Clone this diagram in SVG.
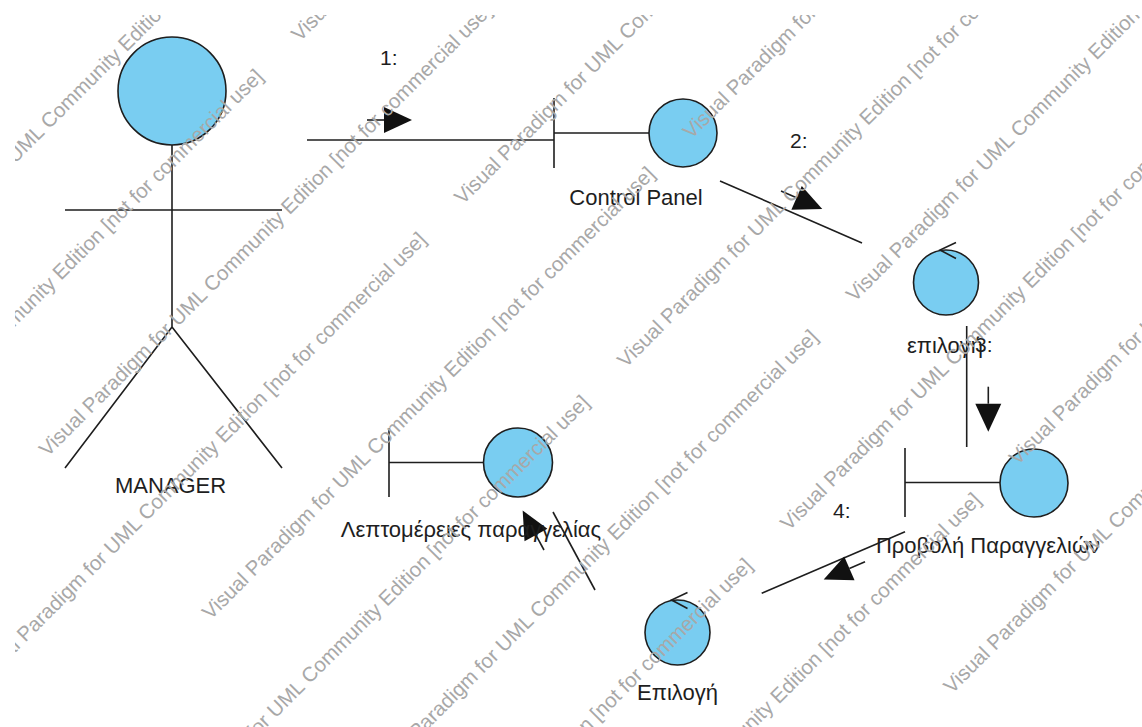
<svg xmlns="http://www.w3.org/2000/svg" width="1142" height="727" viewBox="0 0 1142 727">
<defs>
<style>
.ln{stroke:#1e1e1e;stroke-width:1.6;fill:none}
.shape{fill:#79CDF1;stroke:#1e1e1e;stroke-width:1.6}
.head{fill:#111}
.lbl{font-family:"Liberation Sans",Arial,"Noto Sans",sans-serif;font-size:22px;fill:#1e1e1e;text-anchor:middle}
.num{font-family:"Liberation Sans",Arial,"Noto Sans",sans-serif;font-size:21px;fill:#1e1e1e}
.wm{font-family:"Liberation Sans",Arial,"Noto Sans",sans-serif;font-size:20.5px;fill:#a8a8a8}
</style>
<clipPath id="wmclip"><rect x="15" y="15" width="1127" height="712"/></clipPath>
<g id="msg"><path d="M0,0 H17" class="ln"/><polygon class="head" points="17,-13 17,13 45,0"/></g>
<path id="ctrlArrow" d="M10,-40 L-6,-32.5 L10,-24" class="ln"/>
</defs>
<rect width="1142" height="727" fill="#ffffff"/>

<g id="connectors">
  <line class="ln" x1="307" y1="140" x2="554" y2="140"/>
  <use href="#msg" transform="translate(367,120)"/>
  <text class="num" x="380" y="65">1:</text>

  <line class="ln" x1="720" y1="181" x2="862" y2="243"/>
  <use href="#msg" transform="translate(781,191) rotate(23.6)"/>
  <text class="num" x="790" y="148">2:</text>

  <line class="ln" x1="966.7" y1="326" x2="966.7" y2="447"/>
  <use href="#msg" transform="translate(988.3,386.7) rotate(90)"/>
  <text class="num" x="975" y="352">3:</text>

  <line class="ln" x1="905" y1="531.7" x2="761.7" y2="593.3"/>
  <use href="#msg" transform="translate(865,561.7) rotate(156.7)"/>
  <text class="num" x="833" y="518">4:</text>

  <line class="ln" x1="595" y1="590" x2="553" y2="512"/>
  <use href="#msg" transform="translate(544,550) rotate(-118.3)"/>
  <text class="num" x="523" y="478">5:</text>
</g>

<g id="manager">
  <circle class="shape" cx="172" cy="91" r="54"/>
  <path class="ln" d="M172,145 V327 M65,210 H282 M172,327 L65,468 M172,327 L282,468"/>
  <text class="lbl" x="170.5" y="493">MANAGER</text>
</g>

<g id="control-panel">
  <path class="ln" d="M554,98 V168 M554,133 H649"/>
  <circle class="shape" cx="683" cy="133" r="34"/>
  <text class="lbl" x="636" y="205">Control Panel</text>
</g>

<g id="epilogi-ctrl">
  <circle class="shape" cx="946" cy="282.5" r="32.5"/>
  <use href="#ctrlArrow" transform="translate(946,282.5)"/>
  <text class="lbl" x="945" y="353">επιλογή</text>
</g>

<g id="provoli-paraggelion">
  <path class="ln" d="M905,448 V517 M905,482.5 H1000"/>
  <circle class="shape" cx="1034" cy="483" r="34"/>
  <text class="lbl" x="988" y="553">Προβολή Παραγγελιών</text>
</g>

<g id="Epilogi-ctrl">
  <circle class="shape" cx="677.5" cy="632.5" r="32.5"/>
  <use href="#ctrlArrow" transform="translate(677.5,632.5)"/>
  <text class="lbl" x="677.5" y="700">Επιλογή</text>
</g>

<g id="leptomereies">
  <path class="ln" d="M389,428 V497 M389,462.5 H483.5"/>
  <circle class="shape" cx="518" cy="462.5" r="34.5"/>
  <text class="lbl" x="471" y="536.5">Λεπτομέρειες παραγγελίας</text>
</g>

<g id="watermark" clip-path="url(#wmclip)">
  <g transform="rotate(-45)">
    <text class="wm" x="-290" y="126.5" textLength="630">Visual Paradigm for UML Community Edition [not for commercial use]</text>
    <text class="wm" x="-498" y="241.8" textLength="630">Visual Paradigm for UML Community Edition [not for commercial use]</text>
    <text class="wm" x="182" y="241.8" textLength="630">Visual Paradigm for UML Community Edition [not for commercial use]</text>
    <text class="wm" x="-290" y="357.1" textLength="630">Visual Paradigm for UML Community Edition [not for commercial use]</text>
    <text class="wm" x="-498" y="472.4" textLength="630">Visual Paradigm for UML Community Edition [not for commercial use]</text>
    <text class="wm" x="182" y="472.4" textLength="630">Visual Paradigm for UML Community Edition [not for commercial use]</text>
    <text class="wm" x="-290" y="587.7" textLength="630">Visual Paradigm for UML Community Edition [not for commercial use]</text>
    <text class="wm" x="390" y="587.7" textLength="630">Visual Paradigm for UML Community Edition [not for commercial use]</text>
    <text class="wm" x="-498" y="703" textLength="630">Visual Paradigm for UML Community Edition [not for commercial use]</text>
    <text class="wm" x="182" y="703" textLength="630">Visual Paradigm for UML Community Edition [not for commercial use]</text>
    <text class="wm" x="-290" y="818.3" textLength="630">Visual Paradigm for UML Community Edition [not for commercial use]</text>
    <text class="wm" x="390" y="818.3" textLength="630">Visual Paradigm for UML Community Edition [not for commercial use]</text>
    <text class="wm" x="-498" y="933.6" textLength="630">Visual Paradigm for UML Community Edition [not for commercial use]</text>
    <text class="wm" x="182" y="933.6" textLength="630">Visual Paradigm for UML Community Edition [not for commercial use]</text>
    <text class="wm" x="-290" y="1048.9" textLength="630">Visual Paradigm for UML Community Edition [not for commercial use]</text>
    <text class="wm" x="390" y="1048.9" textLength="630">Visual Paradigm for UML Community Edition [not for commercial use]</text>
    <text class="wm" x="182" y="1164.2" textLength="630">Visual Paradigm for UML Community Edition [not for commercial use]</text>
  </g>
</g>
</svg>
